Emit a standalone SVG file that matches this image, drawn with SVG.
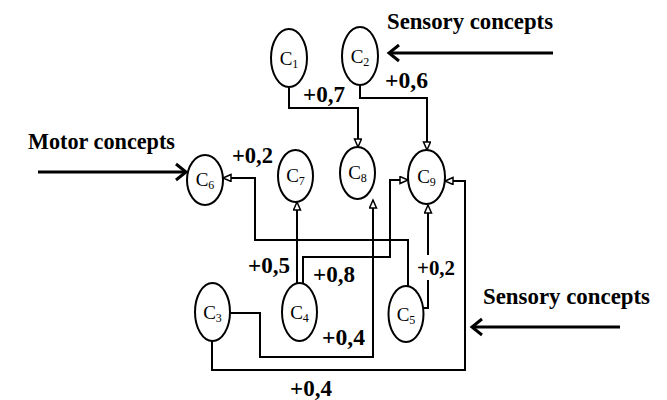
<svg xmlns="http://www.w3.org/2000/svg" width="667" height="400" viewBox="0 0 667 400">
<style>
.node ellipse{fill:#fff;stroke:#000;stroke-width:2}
.nt{font-family:"Liberation Serif",serif;font-size:19px;fill:#000;text-anchor:middle}
.sub{font-size:12px}
.lbl{font-family:"Liberation Serif",serif;font-weight:bold;font-size:24px;fill:#000}
.conn path{fill:none;stroke:#000;stroke-width:2}
.ext path{fill:none;stroke:#000;stroke-width:3}
</style>
<defs>
<marker id="tri" markerUnits="userSpaceOnUse" markerWidth="12" markerHeight="10" refX="9" refY="4" orient="auto">
<path d="M1,0.5 L9,4 L1,7.5 Z" fill="#fff" stroke="#000" stroke-width="1.5"/>
</marker>
<marker id="chev" markerUnits="userSpaceOnUse" markerWidth="16" markerHeight="20" refX="12" refY="10" orient="auto">
<path d="M2,2 L12,10 L2,18" fill="none" stroke="#000" stroke-width="3"/>
</marker>
</defs>
<rect width="667" height="400" fill="#fff"/>
<g id="connectors" class="conn">
<path d="M289,87 V108 H358 V147" marker-end="url(#tri)"/>
<path d="M360,85 V98 H427 V150" marker-end="url(#tri)"/>
<path d="M408,286 V240 H255 V178 H223" marker-end="url(#tri)"/>
<path d="M303,283 V257 H390 V180 H408" marker-end="url(#tri)"/>
<path d="M297,283 V202" marker-end="url(#tri)"/>
<path d="M230,313 H260 V357 H373 V200" marker-end="url(#tri)"/>
<path d="M212,341 V370 H465 V181 H445" marker-end="url(#tri)"/>
<path d="M423,308 H428 V205" marker-end="url(#tri)"/>
</g>
<g id="inputs" class="ext">
<path d="M38,172 H186" marker-end="url(#chev)"/>
<path d="M553,53 H389" marker-end="url(#chev)"/>
<path d="M620,327 H472" marker-end="url(#chev)"/>
</g>
<g id="c1" class="node"><ellipse cx="289" cy="58" rx="18" ry="29"/><text class="nt" x="289" y="65">C<tspan class="sub" dy="3">1</tspan></text></g>
<g id="c2" class="node"><ellipse cx="360" cy="56" rx="18" ry="29"/><text class="nt" x="360" y="63">C<tspan class="sub" dy="3">2</tspan></text></g>
<g id="c3" class="node"><ellipse cx="212.5" cy="312" rx="17.5" ry="29"/><text class="nt" x="212.5" y="319">C<tspan class="sub" dy="3">3</tspan></text></g>
<g id="c4" class="node"><ellipse cx="299.5" cy="312" rx="17.5" ry="29"/><text class="nt" x="299.5" y="319">C<tspan class="sub" dy="3">4</tspan></text></g>
<g id="c5" class="node"><ellipse cx="406" cy="314" rx="17.5" ry="28"/><text class="nt" x="406" y="321">C<tspan class="sub" dy="3">5</tspan></text></g>
<g id="c6" class="node"><ellipse cx="205" cy="180" rx="18" ry="25"/><text class="nt" x="205" y="186">C<tspan class="sub" dy="3">6</tspan></text></g>
<g id="c7" class="node"><ellipse cx="295.5" cy="176" rx="17.5" ry="26"/><text class="nt" x="295.5" y="182">C<tspan class="sub" dy="3">7</tspan></text></g>
<g id="c8" class="node"><ellipse cx="357.5" cy="173" rx="17.5" ry="26"/><text class="nt" x="357.5" y="179">C<tspan class="sub" dy="3">8</tspan></text></g>
<g id="c9" class="node"><ellipse cx="426.5" cy="177" rx="18.5" ry="27"/><text class="nt" x="426.5" y="183">C<tspan class="sub" dy="3">9</tspan></text></g>
<g id="labels">
<text class="lbl" x="303" y="102" textLength="42" lengthAdjust="spacingAndGlyphs">+0,7</text>
<text class="lbl" x="385" y="88" textLength="43" lengthAdjust="spacingAndGlyphs">+0,6</text>
<text class="lbl" x="232" y="163" textLength="41" lengthAdjust="spacingAndGlyphs">+0,2</text>
<text class="lbl" x="248" y="273" textLength="42" lengthAdjust="spacingAndGlyphs">+0,5</text>
<text class="lbl" x="313" y="282" textLength="42" lengthAdjust="spacingAndGlyphs">+0,8</text>
<rect x="416" y="255" width="40" height="25" fill="#fff"/>
<text class="lbl" x="417" y="275" style="font-size:21px" textLength="38" lengthAdjust="spacingAndGlyphs">+0,2</text>
<text class="lbl" x="322" y="345" textLength="43" lengthAdjust="spacingAndGlyphs">+0,4</text>
<text class="lbl" x="290" y="396" textLength="42" lengthAdjust="spacingAndGlyphs">+0,4</text>
<text class="lbl" x="28" y="149" textLength="147" lengthAdjust="spacingAndGlyphs">Motor concepts</text>
<text class="lbl" x="387" y="29" textLength="166" lengthAdjust="spacingAndGlyphs">Sensory concepts</text>
<text class="lbl" x="483" y="304" textLength="167" lengthAdjust="spacingAndGlyphs">Sensory concepts</text>
</g>
</svg>
